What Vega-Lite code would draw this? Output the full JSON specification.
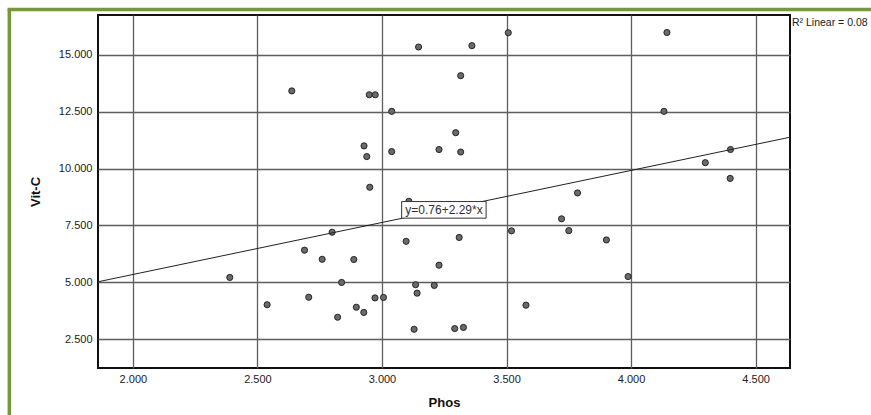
{
  "$schema": "https://vega.github.io/schema/vega-lite/v6.json",
  "width": 692,
  "height": 353,
  "autosize": {"type": "none"},
  "padding": {"left": 98, "top": 15, "right": 81, "bottom": 47},
  "background": "white",
  "config": {
    "font": "Liberation Sans",
    "view": {"stroke": "#111111", "strokeWidth": 2},
    "axis": {
      "domain": false,
      "ticks": false,
      "grid": true,
      "gridColor": "#5e5e5e",
      "gridWidth": 1.3,
      "gridOpacity": 1,
      "labelFont": "Liberation Sans",
      "labelFontSize": 11,
      "labelColor": "#222222",
      "titleFont": "Liberation Sans",
      "titleFontSize": 13,
      "titleFontWeight": "bold",
      "titleColor": "#111111"
    }
  },
  "datasets": {
    "pts": [
      {"Phos": 2.638, "VitC": 13.42},
      {"Phos": 3.507, "VitC": 15.98},
      {"Phos": 3.147, "VitC": 15.35},
      {"Phos": 3.361, "VitC": 15.41},
      {"Phos": 3.316, "VitC": 14.09},
      {"Phos": 2.949, "VitC": 13.25},
      {"Phos": 2.973, "VitC": 13.25},
      {"Phos": 3.039, "VitC": 12.52},
      {"Phos": 3.296, "VitC": 11.58},
      {"Phos": 2.928, "VitC": 11.0},
      {"Phos": 2.939, "VitC": 10.53},
      {"Phos": 3.039, "VitC": 10.75},
      {"Phos": 3.229, "VitC": 10.84},
      {"Phos": 3.316, "VitC": 10.73},
      {"Phos": 2.951, "VitC": 9.18},
      {"Phos": 4.144, "VitC": 15.99},
      {"Phos": 4.132, "VitC": 12.52},
      {"Phos": 4.399, "VitC": 10.84},
      {"Phos": 4.298, "VitC": 10.26},
      {"Phos": 4.398, "VitC": 9.57},
      {"Phos": 3.785, "VitC": 8.93},
      {"Phos": 2.8, "VitC": 7.2},
      {"Phos": 2.689, "VitC": 6.41},
      {"Phos": 2.76, "VitC": 6.01},
      {"Phos": 2.389, "VitC": 5.21},
      {"Phos": 2.706, "VitC": 4.34},
      {"Phos": 2.539, "VitC": 4.01},
      {"Phos": 3.108, "VitC": 8.56},
      {"Phos": 3.721, "VitC": 7.79},
      {"Phos": 3.52, "VitC": 7.26},
      {"Phos": 3.097, "VitC": 6.8},
      {"Phos": 3.31, "VitC": 6.97},
      {"Phos": 2.887, "VitC": 6.0},
      {"Phos": 3.229, "VitC": 5.75},
      {"Phos": 2.838, "VitC": 4.99},
      {"Phos": 3.135, "VitC": 4.89},
      {"Phos": 3.21, "VitC": 4.86},
      {"Phos": 3.141, "VitC": 4.52},
      {"Phos": 2.972, "VitC": 4.31},
      {"Phos": 3.006, "VitC": 4.33},
      {"Phos": 2.897, "VitC": 3.9},
      {"Phos": 2.927, "VitC": 3.67},
      {"Phos": 2.822, "VitC": 3.46},
      {"Phos": 3.578, "VitC": 3.99},
      {"Phos": 3.129, "VitC": 2.93},
      {"Phos": 3.292, "VitC": 2.96},
      {"Phos": 3.327, "VitC": 3.01},
      {"Phos": 3.75, "VitC": 7.27},
      {"Phos": 3.901, "VitC": 6.86},
      {"Phos": 3.988, "VitC": 5.25}
    ],
    "fit": [
      {"Phos": 1.86, "VitC": 5.019},
      {"Phos": 4.638, "VitC": 11.381}
    ],
    "eq": [
      {"label": "y=0.76+2.29*x", "Phos": 3.079, "Phos2": 3.418, "VitC": 8.55, "VitC2": 7.82, "xc": 3.249, "yc": 8.185}
    ],
    "note": [
      {"label": "R² Linear = 0.08"}
    ]
  },
  "layer": [
    {
      "data": {"name": "pts"},
      "mark": {"type": "circle", "size": 38, "fill": "#6a6a6a", "stroke": "#1a1a1a", "strokeWidth": 0.9, "opacity": 1},
      "encoding": {
        "x": {
          "field": "Phos", "type": "quantitative",
          "scale": {"domain": [1.86, 4.638], "nice": false, "zero": false},
          "axis": {"title": "Phos", "values": [2, 2.5, 3, 3.5, 4, 4.5], "format": ".3f", "labelPadding": 5, "titlePadding": 12}
        },
        "y": {
          "field": "VitC", "type": "quantitative",
          "scale": {"domain": [1.225, 16.76], "nice": false, "zero": false},
          "axis": {"title": "Vit-C", "values": [2.5, 5, 7.5, 10, 12.5, 15], "format": ".3f", "labelPadding": 6, "titlePadding": 16}
        }
      }
    },
    {
      "data": {"name": "fit"},
      "mark": {"type": "line", "color": "#222222", "strokeWidth": 1},
      "encoding": {
        "x": {"field": "Phos", "type": "quantitative"},
        "y": {"field": "VitC", "type": "quantitative"}
      }
    },
    {
      "data": {"name": "eq"},
      "mark": {"type": "rect", "fill": "white", "stroke": "#333333", "strokeWidth": 1},
      "encoding": {
        "x": {"field": "Phos", "type": "quantitative"},
        "x2": {"field": "Phos2"},
        "y": {"field": "VitC", "type": "quantitative"},
        "y2": {"field": "VitC2"}
      }
    },
    {
      "data": {"name": "eq"},
      "mark": {"type": "text", "fontSize": 12, "color": "#333333", "font": "Liberation Sans"},
      "encoding": {
        "x": {"field": "xc", "type": "quantitative"},
        "y": {"field": "yc", "type": "quantitative"},
        "text": {"field": "label"}
      }
    },
    {
      "data": {"name": "note"},
      "mark": {"type": "text", "fontSize": 10.5, "color": "#222222", "align": "left", "baseline": "top", "dx": 2, "dy": 3, "font": "Liberation Sans"},
      "encoding": {
        "x": {"datum": 4.638},
        "y": {"datum": 16.76},
        "text": {"field": "label"}
      }
    },
    {
      "data": {"name": "note"},
      "mark": {"type": "rule", "color": "#76983a", "strokeWidth": 3.5},
      "encoding": {
        "x": {"datum": 1.504},
        "y": {"datum": 17.0},
        "y2": {"datum": -1.5}
      }
    },
    {
      "data": {"name": "note"},
      "mark": {"type": "rule", "color": "#76983a", "strokeWidth": 3.5},
      "encoding": {
        "y": {"datum": 17.0},
        "x": {"datum": 1.497},
        "x2": {"datum": 5.1}
      }
    }
  ]
}
